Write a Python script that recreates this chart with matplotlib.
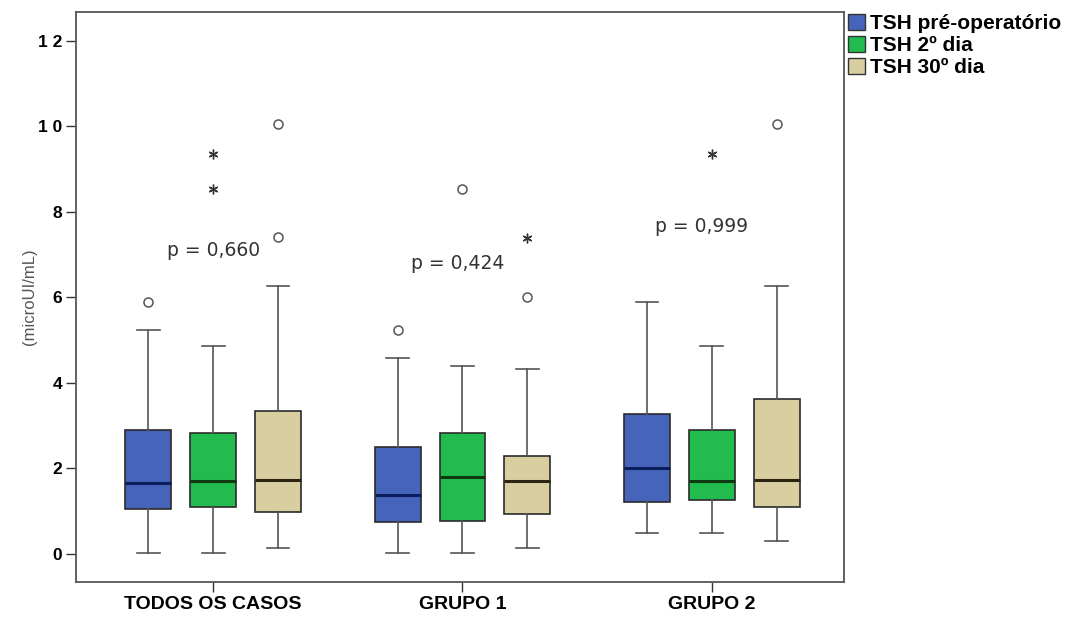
"""SPSS-style grouped boxplot of TSH levels."""
import matplotlib
matplotlib.use("Agg")
import matplotlib.pyplot as plt
from matplotlib.patches import Patch

plt.rcParams['font.family'] = ['Liberation Sans', 'DejaVu Sans']

groups = ["TODOS OS CASOS", "GRUPO 1", "GRUPO 2"]
series = ["TSH pré-operatório", "TSH 2º dia", "TSH 30º dia"]
colors = ["#4664BA", "#22BC4E", "#D8CEA0"]
median_colors = ["#0B1E5A", "#0E3A12", "#2A2410"]
p_values = ["p = 0,660", "p = 0,424", "p = 0,999"]
p_heights = [7.1, 6.8, 7.65]

# box statistics per series, one value per group
q1 = [[1.05, 0.74, 1.21], [1.09, 0.78, 1.26], [0.97, 0.93, 1.09]]
median = [[1.65, 1.38, 2.00], [1.71, 1.80, 1.71], [1.73, 1.71, 1.73]]
q3 = [[2.90, 2.50, 3.28], [2.83, 2.83, 2.90], [3.34, 2.30, 3.63]]
whisk_lo = [[0.02, 0.02, 0.48], [0.02, 0.02, 0.48], [0.13, 0.13, 0.31]]
whisk_hi = [[5.23, 4.57, 5.89], [4.87, 4.40, 4.86], [6.26, 4.32, 6.26]]
# outliers (circles) and extremes (stars)
outliers = [[[5.88], [5.23], []],
            [[], [8.52], []],
            [[7.42, 10.04], [6.01], [10.04]]]
extremes = [[[], [], []],
            [[9.36, 8.52], [], [9.36]],
            [[], [7.39], []]]

fig = plt.figure(figsize=(10.75, 6.21), dpi=100)
ax = fig.add_axes([0.0707, 0.0633, 0.7144, 0.9174])

offset = 0.26
width = 0.184
for s in range(3):
    stats = []
    for g in range(3):
        stats.append(dict(q1=q1[s][g], med=median[s][g], q3=q3[s][g],
                          whislo=whisk_lo[s][g], whishi=whisk_hi[s][g],
                          fliers=outliers[s][g]))
    pos = [g + (s - 1) * offset for g in range(3)]
    ax.bxp(stats, positions=pos, widths=width, patch_artist=True,
           manage_ticks=False,
           boxprops=dict(facecolor=colors[s], edgecolor="#2b2b2b", lw=1.2),
           medianprops=dict(color=median_colors[s], lw=2.2),
           whiskerprops=dict(color="#555555", lw=1.2),
           capprops=dict(color="#555555", lw=1.2),
           capwidths=width * 0.5,
           flierprops=dict(marker="o", markerfacecolor="white",
                           markeredgecolor="#555555", markersize=6.5,
                           markeredgewidth=1.1))
    for g in range(3):
        if extremes[s][g]:
            ax.plot([pos[g]] * len(extremes[s][g]), extremes[s][g],
                    ls="none", marker=(6, 2, 0), color="#333333",
                    markersize=7, markeredgewidth=1.0)

# p-values drawn in a wider face, as in the original
for g in range(3):
    ax.text(g - 0.02 * g, p_heights[g], p_values[g], ha="center",
            va="center", fontsize=13.5, color="#333333",
            family="DejaVu Sans")

ax.set_xlim(-0.55, 2.53)
ax.set_ylim(-0.65, 12.67)
ax.set_yticks([0, 2, 4, 6, 8, 10, 12])
ax.set_yticklabels(["0", "2", "4", "6", "8", "1 0", "1 2"],
                   fontsize=12.5, fontweight="bold")
ax.set_xticks(range(3))
ax.set_xticklabels(groups, fontsize=14, fontweight="bold")
ax.tick_params(axis="both", direction="out", length=7, width=1,
               color="#333333", pad=3)
ax.set_ylabel("(microUI/mL)", fontsize=12, color="#555555")
ax.yaxis.set_label_coords(-0.051, 0.5)
for sp in ax.spines.values():
    sp.set_color("#555555")
    sp.set_linewidth(1.3)

handles = [Patch(facecolor=c, edgecolor="#333333", label=l)
           for c, l in zip(colors, series)]
fig.legend(handles=handles, loc="upper left", bbox_to_anchor=(0.789, 0.977),
           frameon=False, prop=dict(weight="bold", size=15),
           handlelength=0.8, handleheight=0.8, handletextpad=0.25,
           labelspacing=0.12, borderaxespad=0, borderpad=0.0)

fig.savefig("out.png", dpi=100, facecolor="white")
